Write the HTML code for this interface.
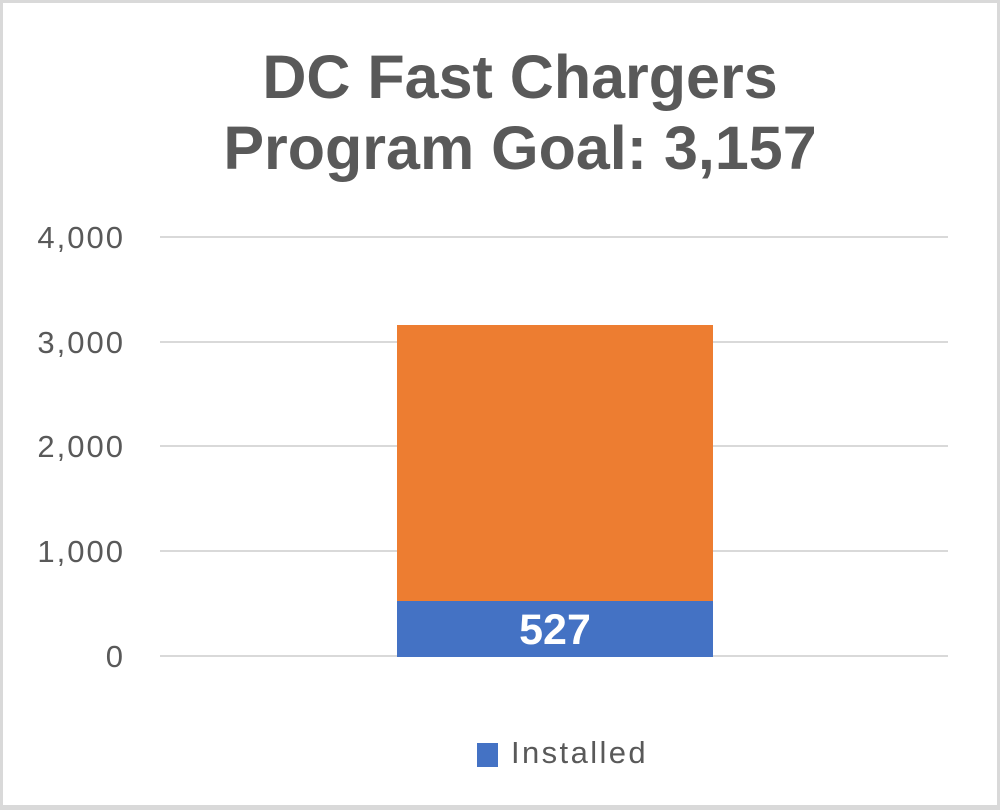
<!DOCTYPE html>
<html><head><meta charset="utf-8"><style>
html,body{margin:0;padding:0;background:#fff}
body{width:1000px;height:810px;position:relative;overflow:hidden;font-family:"Liberation Sans",sans-serif}
.frame{position:absolute;left:0;top:0;width:994px;height:802px;border:3px solid #d9d9d9;border-bottom-width:5px;border-right-width:3px}
.t{position:absolute;left:0;width:1040px;text-align:center;font-weight:bold;font-size:61px;color:#595959}
.g{position:absolute;left:160px;width:788px;height:2px;background:#d9d9d9}
.l{position:absolute;right:875px;font-size:31px;color:#595959;letter-spacing:2px;line-height:1}
</style></head><body>
<div class="frame"></div>
<div class="t" style="top:42px;line-height:70px">DC Fast Chargers</div>
<div class="t" style="top:113px;line-height:70px">Program Goal: 3,157</div>
<div class="g" style="top:236px"></div>
<div class="g" style="top:341px"></div>
<div class="g" style="top:445px"></div>
<div class="g" style="top:550px"></div>
<div class="g" style="top:655px"></div>
<div class="l" style="top:222px">4,000</div>
<div class="l" style="top:327px">3,000</div>
<div class="l" style="top:431px">2,000</div>
<div class="l" style="top:536px">1,000</div>
<div class="l" style="top:641px">0</div>
<div style="position:absolute;left:397px;top:325px;width:316px;height:276px;background:#ed7d31"></div>
<div style="position:absolute;left:397px;top:601px;width:316px;height:56px;background:#4472c4"></div>
<div style="position:absolute;left:397px;top:601px;width:316px;height:56px;line-height:58px;text-align:center;color:#fff;font-weight:bold;font-size:43px">527</div>
<div style="position:absolute;left:477px;top:743px;width:21px;height:24px;background:#4472c4"></div>
<div style="position:absolute;left:511px;top:737px;font-size:31px;color:#595959;letter-spacing:2.4px;line-height:1">Installed</div>
</body></html>
